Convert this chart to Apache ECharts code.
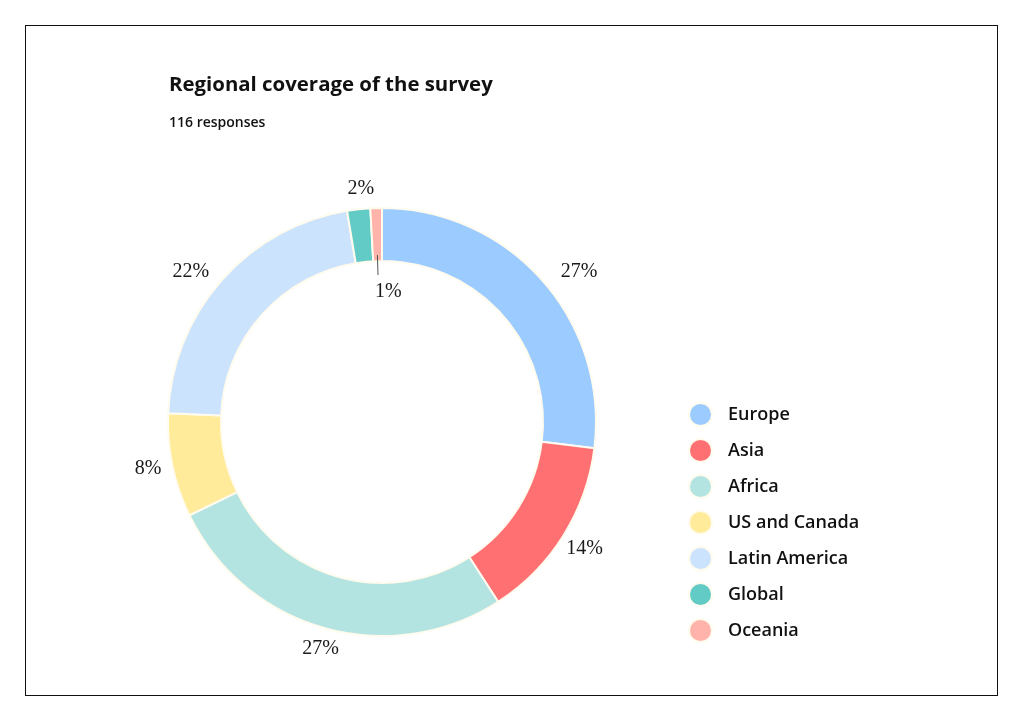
<!DOCTYPE html>
<html>
<head>
<meta charset="utf-8">
<script src="https://cdn.jsdelivr.net/npm/echarts@6/dist/echarts.min.js"></script>
<style>
  html, body { margin: 0; padding: 0; background: #ffffff; }
  #chart { width: 1024px; height: 722px; }
  #frame { position: absolute; left: 25px; top: 25px; width: 971px; height: 669px; border: 1.5px solid #111; pointer-events: none; }
</style>
</head>
<body>
<div id="chart"></div>
<div id="frame"></div>
<script>
const titleText = 'Regional coverage of the survey';
const subtitleText = '116 responses';
const regions = ['Europe', 'Asia', 'Africa', 'US and Canada', 'Latin America', 'Global', 'Oceania'];
const responses = [31, 16, 31, 9, 25, 2, 1];
const colors = ['#9ccbff', '#ff7073', '#b4e4e2', '#ffeb99', '#cce3fd', '#62cbc6', '#ffb3aa'];

const chart = echarts.init(document.getElementById('chart'), null, { renderer: 'canvas' });

const center = [382, 422];
const labelFont = { fontFamily: '"Liberation Serif", "DejaVu Serif", serif', fontSize: 20, color: '#1a1a1a' };
const sansFont = '"Open Sans", Lato, "Noto Sans", sans-serif';

// small per-label nudges in px [dx, dy] (label styling only)
const labelNudge = {
  'Europe': [18, 8],
  'Latin America': [-12, 8],
  'Global': [5, 4],
  'Africa': [3, -3],
  'US and Canada': [0, -2]
};

const nudgeFmt = p => {
  const txt = Math.round(p.percent) + '%';
  const nd = labelNudge[p.name];
  if (!nd || nd[1] === 0) return txt;
  return nd[1] > 0 ? '\n' + txt : txt + '\n';
};

const ringData = regions.map((n, i) => ({ name: n, value: responses[i], itemStyle: { color: colors[i] } }));
const outerLabelData = regions.map((n, i) => {
  const nd = labelNudge[n] || [0, 0];
  const lbl = { show: n !== 'Oceania', padding: [0, Math.max(-nd[0], 0) * 2, 0, Math.max(nd[0], 0) * 2] };
  if (nd[1] !== 0) lbl.lineHeight = Math.abs(nd[1]) * 2;
  return { name: n, value: responses[i], label: lbl };
});
const innerLabelData = regions.map((n, i) => ({
  name: n, value: responses[i],
  label: { show: n === 'Oceania' }
}));

chart.setOption({
  animation: false,
  color: colors,
  title: [
    { text: titleText, left: 164, top: 70, textStyle: { fontFamily: sansFont, fontSize: 20.4, fontWeight: 'bold', color: '#111' } },
    { text: subtitleText, left: 164, top: 111, textStyle: { fontFamily: sansFont, fontSize: 14, fontWeight: 600, color: '#111' } }
  ],
  legend: {
    orient: 'vertical',
    left: 683,
    top: 397,
    icon: 'circle',
    itemWidth: 45,
    itemHeight: 23,
    itemGap: 11,
    data: regions,
    selectedMode: false,
    textStyle: { fontFamily: sansFont, fontSize: 18, fontWeight: 600, color: '#111', lineHeight: 23 }
  },
  series: [
    {
      type: 'pie',
      center: center,
      radius: [161, 214],
      startAngle: 90,
      clockwise: true,
      avoidLabelOverlap: false,
      itemStyle: { borderColor: '#fffbee', borderWidth: 2 },
      label: { show: false },
      labelLine: { show: false },
      emphasis: { disabled: true },
      data: ringData
    },
    {
      type: 'pie',
      center: center,
      radius: [226, 246],
      startAngle: 90,
      clockwise: true,
      silent: true,
      itemStyle: { color: 'rgba(0,0,0,0)' },
      label: Object.assign({ position: 'inside', formatter: nudgeFmt }, labelFont),
      labelLine: { show: false },
      emphasis: { disabled: true },
      legendHoverLink: false,
      data: outerLabelData
    },
    {
      type: 'pie',
      center: center,
      radius: [117, 137],
      startAngle: 90,
      clockwise: true,
      silent: true,
      itemStyle: { color: 'rgba(0,0,0,0)' },
      label: Object.assign({ position: 'inside', formatter: p => Math.round(p.percent) + '%', padding: [0, 0, 0, 20] }, labelFont),
      labelLine: { show: false },
      emphasis: { disabled: true },
      legendHoverLink: false,
      data: innerLabelData
    }
  ]
});

// leader line for the Oceania slice, derived from the library's own pie layout
(function () {
  const seriesModel = chart.getModel().getSeriesByIndex(0);
  const data = seriesModel.getData();
  const idx = regions.indexOf('Oceania');
  const lay = data.getItemLayout(idx);
  if (!lay) return;
  const mid = (lay.startAngle + lay.endAngle) / 2;
  const rA = lay.r0 + 6, rB = lay.r0 - 14;
  chart.setOption({
    graphic: [{
      type: 'line',
      silent: true,
      shape: {
        x1: lay.cx + rA * Math.cos(mid), y1: lay.cy + rA * Math.sin(mid),
        x2: lay.cx + rB * Math.cos(mid), y2: lay.cy + rB * Math.sin(mid)
      },
      style: { stroke: '#555', lineWidth: 1 },
      z: 10
    }]
  });
})();
</script>
</body>
</html>
